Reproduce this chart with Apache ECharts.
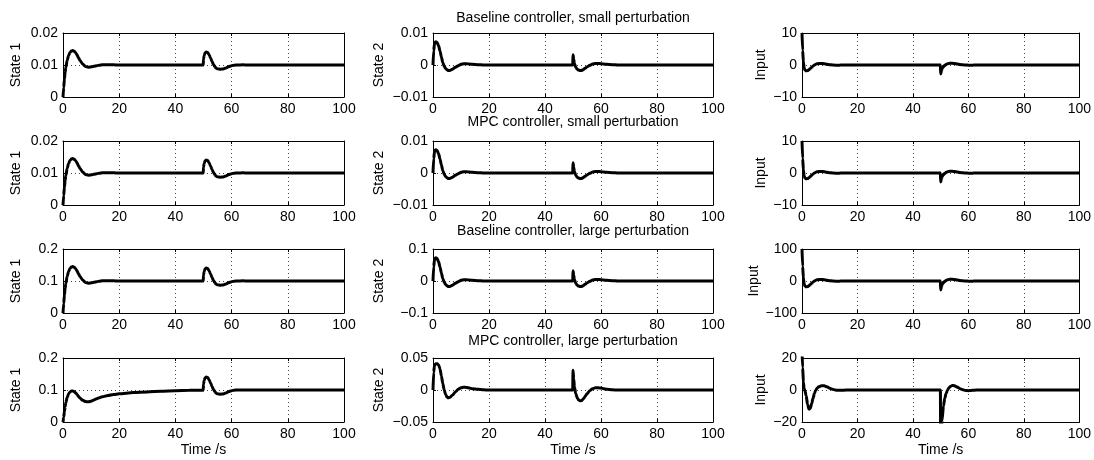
<!DOCTYPE html>
<html><head><meta charset="utf-8">
<script src="https://cdn.jsdelivr.net/npm/echarts@6/dist/echarts.min.js"></script>
<style>html,body{margin:0;padding:0;background:#fff}#c{width:1094px;height:460px}</style>
</head><body><div id="c"></div>
<script>
// ---- data ----
const time = [0,0.25,0.5,0.75,1,1.5,2,2.5,3,3.5,4,4.5,5,5.5,6, 7,8,9,10,11,12,13,14, 16,18,20,25,30,35,40,45,49.9, 50,50.25,50.5,51,51.5,52,52.5,53,53.5,54,54.5,55, 56,57,58,59,60,61,62,64,66,70,80,90,100];

const rowTitles = ['Baseline controller, small perturbation','MPC controller, small perturbation','Baseline controller, large perturbation','MPC controller, large perturbation'];
const colNames = ['State 1','State 2','Input'];
const xAxisName = 'Time /s';
const xTicks = [0,20,40,60,80,100];
const yTicks = [
  [[0,0.01,0.02],[-0.01,0,0.01],[-10,0,10]],
  [[0,0.01,0.02],[-0.01,0,0.01],[-10,0,10]],
  [[0,0.1,0.2],[-0.1,0,0.1],[-100,0,100]],
  [[0,0.1,0.2],[-0.05,0,0.05],[-20,0,20]]
];

// State 1
const state1BaseSmall = [0,0.0030,0.0055,0.0076,0.0092,0.0115,0.0130,0.0139,0.0144,0.0145,0.0143,0.0138,0.0131,0.0123,0.0115,
  0.0103,0.0095,0.0093,0.0094,0.0096,0.0098,0.00995,0.01005,
  0.0101,0.01005,0.0100,0.0100,0.0100,0.0100,0.0100,0.0100,0.0100,
  0.0118,0.0130,0.0137,0.0141,0.0139,0.0132,0.0122,0.0112,0.0102,0.0095,0.0090,0.0088,
  0.0087,0.00875,0.0091,0.0095,0.0098,0.00995,0.0100,0.01005,0.0100,0.0100,0.0100,0.0100,0.0100];
const state1MpcSmall = [0,0.0030,0.0055,0.0076,0.0092,0.0115,0.0130,0.0139,0.0144,0.0145,0.0143,0.0138,0.0131,0.0123,0.0115,
  0.0103,0.0095,0.0093,0.0094,0.0096,0.0098,0.00995,0.01005,
  0.0101,0.01005,0.0100,0.0100,0.0100,0.0100,0.0100,0.0100,0.0100,
  0.0118,0.0130,0.0137,0.0141,0.0139,0.0132,0.0122,0.0112,0.0102,0.0095,0.0090,0.0088,
  0.0087,0.00875,0.0091,0.0095,0.0098,0.00995,0.0100,0.01005,0.0100,0.0100,0.0100,0.0100,0.0100];
const state1BaseLarge = [0,0.030,0.055,0.076,0.092,0.115,0.130,0.139,0.144,0.145,0.143,0.138,0.131,0.123,0.115,
  0.103,0.095,0.093,0.094,0.096,0.098,0.0995,0.1005,
  0.101,0.1005,0.100,0.100,0.100,0.100,0.100,0.100,0.100,
  0.118,0.130,0.137,0.141,0.139,0.132,0.122,0.112,0.102,0.095,0.090,0.088,
  0.087,0.0875,0.091,0.095,0.098,0.0995,0.100,0.1005,0.100,0.100,0.100,0.100,0.100];
const state1MpcLarge = [0,0.015,0.032,0.048,0.060,0.077,0.088,0.094,0.097,0.097,0.095,0.091,0.086,0.080,0.075,
  0.068,0.064,0.063,0.065,0.069,0.073,0.076,0.079,
  0.083,0.086,0.088,0.092,0.094,0.096,0.098,0.099,0.0995,
  0.118,0.130,0.137,0.141,0.139,0.132,0.122,0.112,0.102,0.095,0.090,0.088,
  0.087,0.0875,0.091,0.095,0.098,0.0995,0.100,0.100,0.100,0.100,0.100,0.100,0.100];

// State 2
const state2BaseSmall = [0,0.0045,0.0064,0.0071,0.0073,0.0070,0.0060,0.0044,0.0025,0.0008,-0.0004,-0.0011,-0.0015,-0.0017,-0.0017,
  -0.0013,-0.0007,-0.0002,0.0002,0.0004,0.0004,0.0003,0.0002,
  0.0001,0,0,0,0,0,0,0,0,
  0.0032,0.0018,0.0005,-0.0007,-0.0013,-0.0016,-0.0017,-0.0017,-0.0015,-0.0012,-0.0009,-0.0006,
  -0.0001,0.0003,0.0005,0.0005,0.0004,0.0003,0.0002,0.0001,0,0,0,0,0];
const state2MpcSmall = [0,0.0045,0.0064,0.0071,0.0073,0.0070,0.0060,0.0044,0.0025,0.0008,-0.0004,-0.0011,-0.0015,-0.0017,-0.0017,
  -0.0013,-0.0007,-0.0002,0.0002,0.0004,0.0004,0.0003,0.0002,
  0.0001,0,0,0,0,0,0,0,0,
  0.0032,0.0018,0.0005,-0.0007,-0.0013,-0.0016,-0.0017,-0.0017,-0.0015,-0.0012,-0.0009,-0.0006,
  -0.0001,0.0003,0.0005,0.0005,0.0004,0.0003,0.0002,0.0001,0,0,0,0,0];
const state2BaseLarge = [0,0.045,0.064,0.071,0.073,0.070,0.060,0.044,0.025,0.008,-0.004,-0.011,-0.015,-0.017,-0.017,
  -0.013,-0.007,-0.002,0.002,0.004,0.004,0.003,0.002,
  0.001,0,0,0,0,0,0,0,0,
  0.032,0.018,0.005,-0.007,-0.013,-0.016,-0.017,-0.017,-0.015,-0.012,-0.009,-0.006,
  -0.001,0.003,0.005,0.005,0.004,0.003,0.002,0.001,0,0,0,0,0];
const state2MpcLarge = [0,0.028,0.037,0.040,0.041,0.041,0.039,0.033,0.022,0.010,0.000,-0.007,-0.011,-0.012,-0.0115,
  -0.008,-0.003,0.001,0.0035,0.0043,0.004,0.003,0.002,
  0.001,0.0003,0,0,0,0,0,0,0,
  0.031,0.018,0.005,-0.006,-0.012,-0.0155,-0.0168,-0.0165,-0.015,-0.012,-0.009,-0.006,
  -0.001,0.002,0.0035,0.0035,0.003,0.002,0.0012,0.0003,0,0,0,0,0];

// Input
const inputBaseSmall = [10,4.5,1.0,-0.8,-1.5,-1.8,-1.75,-1.5,-1.1,-0.7,-0.3,0.0,0.25,0.4,0.5,
  0.5,0.4,0.25,0.1,0.0,-0.05,-0.05,-0.03,
  0,0,0,0,0,0,0,0,0,
  -2.8,-2.0,-1.2,-0.5,-0.1,0.2,0.4,0.5,0.55,0.55,0.5,0.45,
  0.3,0.15,0.05,0,-0.05,-0.05,-0.03,0,0,0,0,0,0];
const inputMpcSmall = [10,4.5,1.0,-0.8,-1.5,-1.8,-1.75,-1.5,-1.1,-0.7,-0.3,0.0,0.25,0.4,0.5,
  0.5,0.4,0.25,0.1,0.0,-0.05,-0.05,-0.03,
  0,0,0,0,0,0,0,0,0,
  -2.8,-2.0,-1.2,-0.5,-0.1,0.2,0.4,0.5,0.55,0.55,0.5,0.45,
  0.3,0.15,0.05,0,-0.05,-0.05,-0.03,0,0,0,0,0,0];
const inputBaseLarge = [100,45,10,-8,-15,-18,-17.5,-15,-11,-7,-3,0,2.5,4,5,
  5,4,2.5,1,0,-0.5,-0.5,-0.3,
  0,0,0,0,0,0,0,0,0,
  -28,-20,-12,-5,-1,2,4,5,5.5,5.5,5,4.5,
  3,1.5,0.5,0,-0.5,-0.5,-0.3,0,0,0,0,0,0];
const inputMpcLarge = [24,14,5,1,0,-3.5,-9,-12,-11.5,-8.5,-5,-2,0,1.3,2.0,
  2.6,2.6,2.0,1.1,0.4,0,-0.2,-0.2,
  -0.05,0,0,0,0,0,0,0,0,
  -30,-25,-19,-10,-5,-2,0,1.4,2.2,2.7,2.8,2.6,
  1.8,0.8,0.1,-0.3,-0.4,-0.3,-0.15,0,0,0,0,0,0];

const seriesTable = [
  [state1BaseSmall, state2BaseSmall, inputBaseSmall],
  [state1MpcSmall, state2MpcSmall, inputMpcSmall],
  [state1BaseLarge, state2BaseLarge, inputBaseLarge],
  [state1MpcLarge, state2MpcLarge, inputMpcLarge]
];

// ---- layout ----
const FONT = '"Liberation Sans", Arial, Helvetica, sans-serif';
const colLeft = [63, 433, 802];
const colWidth = [281, 280, 281];
const rowTop = [33, 141, 249, 358];
const rowHeight = 64;
const nameGaps = [40, 47, 34];
const titleY = [18, 122, 231, 341];

const grids = [], xAxes = [], yAxes = [], series = [], graphics = [];
const fmt = v => String(v).replace('-', '\u2212');

for (let r = 0; r < 4; r++) {
  for (let c = 0; c < 3; c++) {
    const g = r * 3 + c;
    grids.push({left: colLeft[c], top: rowTop[r], width: colWidth[c], height: rowHeight, containLabel: false});
    const tk = yTicks[r][c];
    const ymin = tk[0], ymax = tk[tk.length - 1], yint = tk[1] - tk[0];
    xAxes.push({
      type: 'value', gridIndex: g, position: 'bottom', min: xTicks[0], max: xTicks[xTicks.length - 1], interval: xTicks[1] - xTicks[0],
      axisLine: {show: true, onZero: false, lineStyle: {color: '#000', width: 1}},
      axisTick: {show: true, inside: true, length: 3, lineStyle: {color: '#000'}},
      axisLabel: {show: true, color: '#000', fontSize: 14, fontFamily: FONT, margin: 5},
      splitLine: {show: true, lineStyle: {color: '#444', width: 1, type: [1, 3]}},
      name: r === 3 ? xAxisName : '', nameLocation: 'middle', nameGap: 21,
      nameTextStyle: {color: '#000', fontSize: 14, fontFamily: FONT}
    });
    xAxes.push({
      type: 'value', gridIndex: g, position: 'top', min: xTicks[0], max: xTicks[xTicks.length - 1], interval: xTicks[1] - xTicks[0],
      axisLine: {show: true, onZero: false, lineStyle: {color: '#000', width: 1}},
      axisTick: {show: true, inside: true, length: 3, lineStyle: {color: '#000'}},
      axisLabel: {show: false}, splitLine: {show: false}
    });
    yAxes.push({
      type: 'value', gridIndex: g, position: 'left', min: ymin, max: ymax, interval: yint,
      axisLine: {show: true, onZero: false, lineStyle: {color: '#000', width: 1}},
      axisTick: {show: true, inside: true, length: 3, lineStyle: {color: '#000'}},
      axisLabel: {show: true, color: '#000', fontSize: 14, fontFamily: FONT, margin: 5, formatter: fmt},
      splitLine: {show: true, lineStyle: {color: '#444', width: 1, type: [1, 3]}},
      name: colNames[c], nameLocation: 'middle', nameGap: nameGaps[c],
      nameTextStyle: {color: '#000', fontSize: 14, fontFamily: FONT}
    });
    yAxes.push({
      type: 'value', gridIndex: g, position: 'right', min: ymin, max: ymax, interval: yint,
      axisLine: {show: true, onZero: false, lineStyle: {color: '#000', width: 1}},
      axisTick: {show: true, inside: true, length: 3, lineStyle: {color: '#000'}},
      axisLabel: {show: false}, splitLine: {show: false}
    });
    const vals = seriesTable[r][c];
    series.push({
      type: 'line', xAxisIndex: 2 * g, yAxisIndex: 2 * g,
      data: time.map((t, i) => [t, vals[i]]),
      showSymbol: false, symbol: 'none', smooth: 0.25, smoothMonotone: 'x', clip: true,
      lineStyle: {color: '#000', width: 3}, z: 3
    });
  }
  graphics.push({
    type: 'text', x: colLeft[1] + colWidth[1] / 2, y: titleY[r],
    style: {text: rowTitles[r], fill: '#000', font: '14px ' + FONT, align: 'center', verticalAlign: 'middle'}
  });
}

const chart = echarts.init(document.getElementById('c'));
chart.setOption({
  animation: false,
  backgroundColor: '#fff',
  grid: grids, xAxis: xAxes, yAxis: yAxes, series: series, graphic: graphics
});
</script></body></html>
